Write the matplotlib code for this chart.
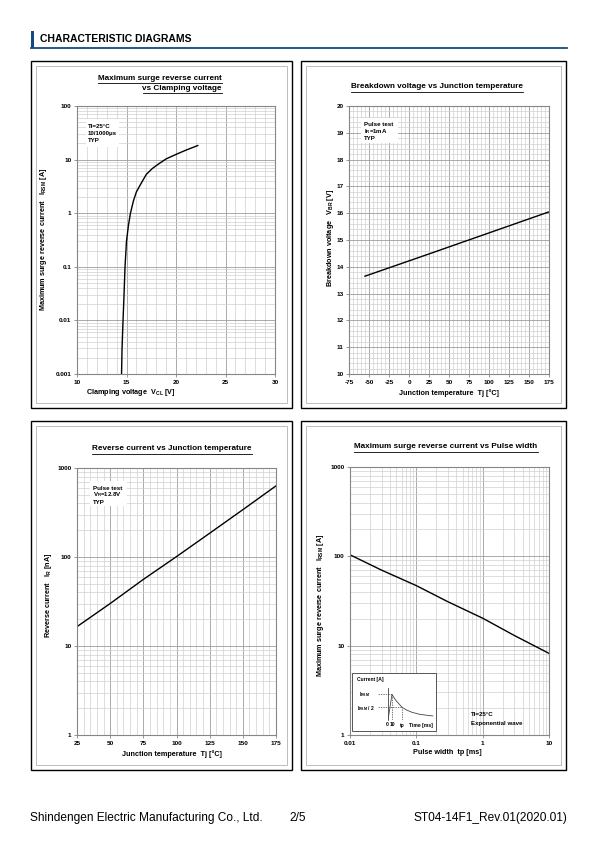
import matplotlib
matplotlib.use('Agg')
import matplotlib.pyplot as plt
from matplotlib.patches import Rectangle
from matplotlib.lines import Line2D
from matplotlib.ticker import MultipleLocator, LogLocator, NullFormatter

plt.rcParams['font.family'] = ['Liberation Sans', 'DejaVu Sans']
plt.rcParams['font.weight'] = 'bold'
plt.rcParams['mathtext.default'] = 'regular'
plt.rcParams['axes.unicode_minus'] = False

W, H = 595, 842

# --- data ---
clamp_v = [14.5, 14.55, 14.65, 14.75, 14.85, 15.0, 15.2, 15.4, 15.7, 16.0,
           16.4, 17.0, 17.6, 18.2, 19.0, 20.0, 21.0, 22.2]
clamp_i = [0.001, 0.003, 0.01, 0.03, 0.1, 0.3, 0.6, 1.0, 1.7, 2.5,
           3.4, 5.3, 6.8, 8.2, 10.3, 12.5, 15.0, 18.3]

bd_tj = [-55, 25, 175]
bd_v = [13.65, 14.48, 16.05]

ir_tj = [25, 50, 75, 100, 125, 150, 175]
ir_na = [16.5, 30, 56, 101, 185, 340, 630]

pw_tp = [0.01, 0.03, 0.1, 0.3, 1, 3, 10]
pw_i = [104, 70, 47, 31, 20.3, 13, 8.2]

# exponential test wave sketch (inset)
wave_t = [0, 10, 15, 20, 28, 35, 45, 60, 80, 100, 112]
wave_i = [0, 1.0, 0.87, 0.76, 0.62, 0.5, 0.4, 0.3, 0.22, 0.18, 0.16]

log_ticks1 = [0.001, 0.01, 0.1, 1, 10, 100]
log_labels1 = ['0.001', '0.01', '0.1', '1', '10', '100']
dec_ticks = [1, 10, 100, 1000]
dec_labels = ['1', '10', '100', '1000']
pw_ticks = [0.01, 0.1, 1, 10]
pw_labels = ['0.01', '0.1', '1', '10']

fig = plt.figure(figsize=(W / 100, H / 100), dpi=100)


def fx(x):
    return x / W


def fy(y):
    return 1 - y / H


def rect(x0, y0, x1, y1):
    return [fx(x0), fy(y1), (x1 - x0) / W, (y1 - y0) / H]


def ptext(x, y, s, **kw):
    kw.setdefault('va', 'center')
    return fig.text(fx(x), fy(y), s, **kw)


def pline(xs, ys, **kw):
    fig.add_artist(Line2D([fx(v) for v in xs], [fy(v) for v in ys],
                          transform=fig.transFigure, **kw))


def pbox(x0, y0, x1, y1, **kw):
    fig.add_artist(Rectangle((fx(x0), fy(y1)), (x1 - x0) / W, (y1 - y0) / H,
                             transform=fig.transFigure, **kw))


def style(ax, tsize=4.6):
    for sp in ax.spines.values():
        sp.set_color('#868686')
        sp.set_linewidth(0.8)
    ax.tick_params(which='major', length=2, width=0.6, color='#868686',
                   labelsize=tsize, pad=2)
    ax.tick_params(which='minor', length=0)
    ax.grid(which='major', color='#9c9c9c', lw=0.6)
    ax.grid(which='minor', color='#d0d0d0', lw=0.5)
    ax.set_axisbelow(True)


def log_minor(axis):
    axis.set_minor_locator(LogLocator(base=10, subs=range(2, 10), numticks=20))
    axis.set_minor_formatter(NullFormatter())


# header
pbox(31, 31, 33.5, 48, color='#174a7c', lw=0)
pline([31, 567], [48, 48], color='#174a7c', lw=1.3)
ptext(40, 38.5, 'CHARACTERISTIC DIAGRAMS', fontsize=7.5, fontweight='bold')

# panel frames
for x0, y0, x1, y1 in [(31, 61, 292, 408), (301, 61, 566, 408),
                       (31, 421, 292, 770), (301, 421, 566, 770)]:
    pbox(x0, y0, x1, y1, fill=False, ec='black', lw=1.0)
    pbox(x0 + 5, y0 + 5, x1 - 5, y1 - 5, fill=False, ec='#bdbdbd', lw=0.7)

# ---- panel 1 : IRSM vs VCL ----
ax1 = fig.add_axes(rect(77, 106, 275, 374))
ax1.plot(clamp_v, clamp_i, color='black', lw=1.0)
ax1.set_yscale('log')
ax1.set_xlim(10, 30)
ax1.set_ylim(0.001, 100)
ax1.set_xticks([10, 15, 20, 25, 30])
ax1.xaxis.set_minor_locator(MultipleLocator(1))
ax1.set_yticks(log_ticks1, log_labels1)
log_minor(ax1.yaxis)
style(ax1)

# ---- panel 2 : VBR vs Tj ----
ax2 = fig.add_axes(rect(349, 106, 549, 374))
ax2.plot(bd_tj, bd_v, color='black', lw=1.0)
ax2.set_xlim(-75, 175)
ax2.set_ylim(10, 20)
ax2.set_xticks(range(-75, 176, 25))
ax2.xaxis.set_minor_locator(MultipleLocator(5))
ax2.set_yticks(range(10, 21))
ax2.yaxis.set_minor_locator(MultipleLocator(0.2))
style(ax2)

# ---- panel 3 : IR vs Tj ----
ax3 = fig.add_axes(rect(77, 468, 276, 735))
ax3.plot(ir_tj, ir_na, color='black', lw=1.0)
ax3.set_yscale('log')
ax3.set_xlim(25, 175)
ax3.set_ylim(1, 1000)
ax3.set_xticks(range(25, 176, 25))
ax3.xaxis.set_minor_locator(MultipleLocator(5))
ax3.set_yticks(dec_ticks, dec_labels)
log_minor(ax3.yaxis)
style(ax3)

# ---- panel 4 : IRSM vs tp ----
ax4 = fig.add_axes(rect(350, 467, 549, 735))
ax4.plot(pw_tp, pw_i, color='black', lw=1.0)
ax4.set_xscale('log')
ax4.set_yscale('log')
ax4.set_xlim(0.01, 10)
ax4.set_ylim(1, 1000)
ax4.set_xticks(pw_ticks, pw_labels)
ax4.set_yticks(dec_ticks, dec_labels)
log_minor(ax4.xaxis)
log_minor(ax4.yaxis)
style(ax4)

# titles (underlined)
titles = [(222, 78, 'Maximum surge reverse current', 'right'),
          (222, 88, 'vs Clamping voltage', 'right'),
          (437, 87, 'Breakdown voltage vs Junction temperature', 'center'),
          (172, 449, 'Reverse current vs Junction temperature', 'center'),
          (446, 447, 'Maximum surge reverse current vs Pulse width', 'center')]
title_artists = [ptext(x, y, s, ha=ha, fontsize=5.85) for x, y, s, ha in titles]

# axis labels
lab = dict(fontsize=5.2, ha='center')
ptext(131, 393, 'Clamping voltage  V$_{CL}$ [V]', **lab)
ptext(449, 393, 'Junction temperature  Tj [°C]', **lab)
ptext(172, 754, 'Junction temperature  Tj [°C]', **lab)
ptext(447, 752, 'Pulse width  tp [ms]', **lab)
ptext(44, 239, 'Maximum surge reverse current   I$_{RSM}$ [A]', rotation=90, **lab)
ptext(330, 238, 'Breakdown voltage   V$_{BR}$ [V]', rotation=90, **lab)
ptext(49, 595, 'Reverse current   I$_{R}$ [nA]', rotation=90, **lab)
ptext(321, 605, 'Maximum surge reverse current   I$_{RSM}$ [A]', rotation=90, **lab)

# condition boxes
notes = [((86, 119, 119, 147), 88, ['Tl=25°C', '10/1000μs', 'TYP']),
         ((361, 118, 398, 143), 364, ['Pulse test', 'I$_R$=1mA', 'TYP']),
         ((90, 481, 127, 506), 93, ['Pulse test', 'V$_R$=12.8V', 'TYP'])]
for (x0, y0, x1, y1), tx, lines in notes:
    pbox(x0, y0, x1, y1, color='white', lw=0)
    for k, s in enumerate(lines):
        ptext(tx, y0 + 7 + 7 * k, s, fontsize=4.4)

ptext(471, 715, 'Tl=25°C', fontsize=4.4)
ptext(471, 723, 'Exponential wave', fontsize=4.4)

# inset: test waveform
pbox(352, 673, 436, 731, color='white', lw=0)
pbox(352, 673, 436, 731, fill=False, ec='#555555', lw=0.7)
axw = fig.add_axes(rect(388, 688, 436, 720))
axw.set_zorder(5)
axw.plot(wave_t, wave_i, color='#444444', lw=0.6)
dash = dict(color='#444444', lw=0.5, ls=(0, (2, 1.5)))
axw.plot([-25, 10], [1, 1], clip_on=False, **dash)
axw.plot([-25, 35], [0.5, 0.5], clip_on=False, **dash)
axw.plot([10, 10], [0, 1], **dash)
axw.plot([35, 35], [0, 0.5], **dash)
axw.set_xlim(0, 120)
axw.set_ylim(0, 1.25)
axw.patch.set_alpha(0)
for side in ['top', 'right', 'bottom']:
    axw.spines[side].set_visible(False)
axw.spines['left'].set_color('#444444')
axw.spines['left'].set_linewidth(0.6)
axw.set_xticks([])
axw.set_yticks([])
small = dict(fontsize=3.6)
ptext(357, 680, 'Current [A]', **small)
ptext(359, 695, 'I$_{RSM}$', **small)
ptext(357, 709, 'I$_{RSM}$ / 2', **small)
ptext(387, 725, '0', ha='center', **small)
ptext(393, 725, '10', ha='center', **small)
ptext(402, 725, 'tp', ha='center', **small)
ptext(409, 725, 'Time [ms]', **small)

# footer
foot = dict(fontsize=8.6, fontweight='normal')
ptext(30, 818, 'Shindengen Electric Manufacturing Co., Ltd.', **foot)
ptext(289, 818, '2/5', **foot)
ptext(567, 818, 'ST04-14F1_Rev.01(2020.01)', ha='right', **foot)

# underline the chart titles
fig.canvas.draw()
r = fig.canvas.get_renderer()
for t in title_artists:
    bb = t.get_window_extent(r)
    y = bb.y0 - 1
    fig.add_artist(Line2D([bb.x0 / fig.bbox.width, bb.x1 / fig.bbox.width],
                          [y / fig.bbox.height, y / fig.bbox.height],
                          transform=fig.transFigure, color='black', lw=0.6))

fig.savefig('out.png', dpi=100)
